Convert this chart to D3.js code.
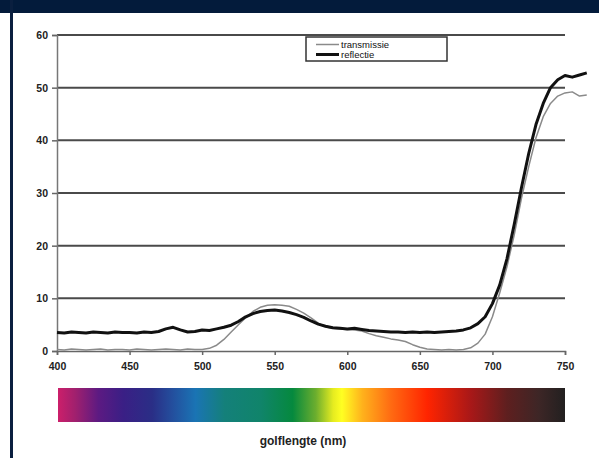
<!DOCTYPE html>
<html>
<head>
<meta charset="utf-8">
<style>
  body { margin: 0; background: #fff; }
  svg { display: block; font-family: "Liberation Sans", Arial, sans-serif; }
</style>
</head>
<body>
<svg id="chart" width="599" height="458"></svg>
<script src="https://d3js.org/d3.v7.min.js"></script>
<script>
const WIDTH = 599;
const HEIGHT = 458;

// wavelengths (nm), every 5 nm
const golflengte = [400,405,410,415,420,425,430,435,440,445,450,455,460,465,470,475,480,485,490,495,
  500,505,510,515,520,525,530,535,540,545,550,555,560,565,570,575,580,585,590,595,
  600,605,610,615,620,625,630,635,640,645,650,655,660,665,670,675,680,685,690,695,
  700,705,710,715,720,725,730,735,740,745,750,755,760,765];

const reflectie = [3.5,3.4,3.6,3.5,3.4,3.6,3.5,3.4,3.6,3.5,3.5,3.4,3.6,3.5,3.7,4.2,4.5,4.0,3.6,3.7,
  4.0,3.9,4.2,4.5,4.9,5.6,6.5,7.1,7.5,7.7,7.8,7.6,7.3,6.9,6.4,5.7,5.1,4.7,4.4,4.3,
  4.2,4.3,4.1,3.9,3.8,3.7,3.6,3.6,3.5,3.6,3.5,3.6,3.5,3.6,3.7,3.8,4.0,4.4,5.2,6.5,
  9.0,12.5,17.5,24,31,37.5,43,47,50,51.5,52.3,52.0,52.4,52.8];

const transmissie = [0.3,0.2,0.4,0.3,0.2,0.3,0.4,0.2,0.3,0.3,0.2,0.4,0.3,0.2,0.3,0.4,0.3,0.2,0.4,0.3,
  0.3,0.5,1.1,2.2,3.6,5.0,6.3,7.5,8.3,8.7,8.8,8.7,8.5,7.9,7.2,6.3,5.3,4.6,4.3,4.2,
  4.1,4.0,3.8,3.3,2.9,2.6,2.3,2.1,1.8,1.2,0.7,0.4,0.3,0.2,0.3,0.2,0.3,0.6,1.5,3.2,
  6.5,11,16,22,29,35,40.5,44.5,47,48.4,49.0,49.2,48.4,48.6];

const xTicks = [400,450,500,550,600,650,700,750];
const yTicks = [0,10,20,30,40,50,60];

// spectrum colours along the wavelength axis
const spectrumNm = [400,412,428,445,465,480,495,515,540,562,578,590,596,610,630,655,685,710,732,750];
const spectrumColor = ['#cc1f6a','#a0206e','#5c1a82','#3a1f85','#2a2e86','#23519f','#1a74b4','#14807a','#10846a','#05893e',
  '#6cae2e','#e6ec20','#ffff22','#ffb21c','#ff6a12','#ff2400','#a81818','#5e1f1f','#3d2626','#222020'];

const svg = d3.select('#chart');

const x = d3.scaleLinear().domain([400, 750]).range([57, 565]);
const y = d3.scaleLinear().domain([0, 60]).range([351, 35]);

// frame: header band and left border
svg.append('rect').attr('x', 0).attr('y', 0).attr('width', WIDTH).attr('height', 13).attr('fill', '#031b3b');
svg.append('rect').attr('x', 10).attr('y', 0).attr('width', 3).attr('height', HEIGHT).attr('fill', '#0a1f3f');

// horizontal gridlines
svg.append('g')
  .selectAll('line')
  .data(yTicks.filter(d => d > 0))
  .join('line')
  .attr('x1', x(400)).attr('x2', x(750))
  .attr('y1', d => y(d)).attr('y2', d => y(d))
  .attr('stroke', '#4a4a4a')
  .attr('stroke-width', 2);

// y axis
const yAxis = svg.append('g')
  .attr('transform', `translate(${x(400)},0)`)
  .call(d3.axisLeft(y).tickValues(yTicks).tickSize(5).tickPadding(4));
yAxis.select('.domain').attr('stroke', '#777').attr('stroke-width', 1.5);
yAxis.selectAll('.tick line').attr('stroke', '#666').attr('stroke-width', 1.5);
yAxis.selectAll('.tick text')
  .attr('font-size', 10.5).attr('font-weight', 'bold').attr('fill', '#222')
  .style('font-family', '"Liberation Sans", Arial, sans-serif');

// x axis
const xAxis = svg.append('g')
  .attr('transform', `translate(0,${y(0)})`)
  .call(d3.axisBottom(x).tickValues(xTicks).tickSize(4).tickPadding(8));
xAxis.select('.domain').attr('stroke', '#666').attr('stroke-width', 1.5);
xAxis.selectAll('.tick line').attr('stroke', '#666').attr('stroke-width', 1.5);
xAxis.selectAll('.tick text')
  .attr('font-size', 10.5).attr('font-weight', 'bold').attr('fill', '#222')
  .style('font-family', '"Liberation Sans", Arial, sans-serif');

// data lines
const pts = arr => golflengte.map((g, i) => [g, arr[i]]);
const line = d3.line().x(d => x(d[0])).y(d => y(d[1]));

svg.append('path')
  .attr('d', line(pts(transmissie)))
  .attr('fill', 'none')
  .attr('stroke', '#8a8a8a')
  .attr('stroke-width', 1.5)
  .attr('stroke-linejoin', 'round');

svg.append('path')
  .attr('d', line(pts(reflectie)))
  .attr('fill', 'none')
  .attr('stroke', '#111')
  .attr('stroke-width', 3)
  .attr('stroke-linejoin', 'round');

// legend
const legend = svg.append('g').attr('transform', 'translate(306,37)');
legend.append('rect')
  .attr('width', 141).attr('height', 24)
  .attr('fill', '#fff').attr('stroke', '#333').attr('stroke-width', 1.5);
const legendItems = [
  { name: 'transmissie', color: '#8a8a8a', w: 1.5 },
  { name: 'reflectie', color: '#111', w: 3 }
];
legendItems.forEach((d, i) => {
  const yy = 7.5 + i * 10;
  legend.append('line')
    .attr('x1', 10).attr('x2', 33).attr('y1', yy).attr('y2', yy)
    .attr('stroke', d.color).attr('stroke-width', d.w);
  legend.append('text')
    .attr('x', 35).attr('y', yy + 3.3)
    .attr('font-size', 9.5).attr('fill', '#111')
    .text(d.name);
});

// spectrum bar
const defs = svg.append('defs');
const grad = defs.append('linearGradient').attr('id', 'spectrum')
  .attr('x1', '0%').attr('x2', '100%').attr('y1', '0%').attr('y2', '0%');
grad.selectAll('stop')
  .data(spectrumNm)
  .join('stop')
  .attr('offset', d => (x(d) - x(400)) / (x(750) - x(400)))
  .attr('stop-color', (d, i) => spectrumColor[i]);

svg.append('rect')
  .attr('x', x(400) + 1).attr('y', 388)
  .attr('width', x(750) - x(400) - 1).attr('height', 34)
  .attr('fill', 'url(#spectrum)');

svg.append('text')
  .attr('x', 303).attr('y', 445)
  .attr('text-anchor', 'middle')
  .attr('font-size', 12).attr('font-weight', 'bold').attr('fill', '#222')
  .text('golflengte (nm)');
</script>
</body>
</html>
